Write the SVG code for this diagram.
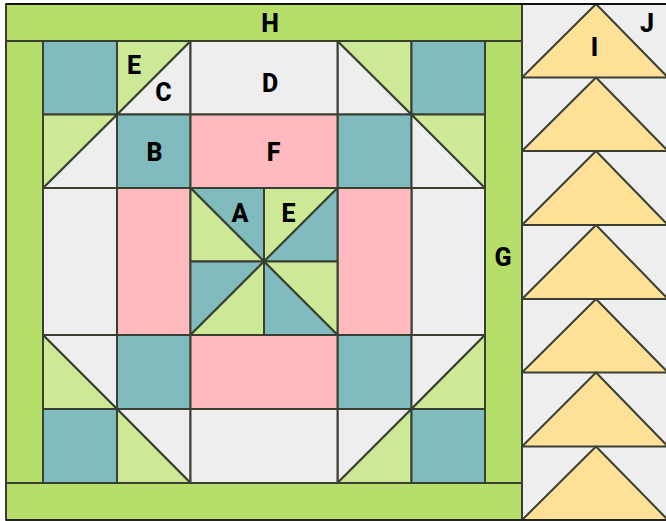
<svg xmlns="http://www.w3.org/2000/svg" width="666" height="521" viewBox="0 0 666 521">
<style>
.s{stroke:#3a3f33;stroke-width:2;stroke-linejoin:round}
.t{fill:#80bbbe}.l{fill:#cde995}.g{fill:#b5de6b}.p{fill:#ffbac0}.w{fill:#eeeeee}.y{fill:#fee097}
text{font-family:Roboto,"Liberation Sans",sans-serif;font-weight:800;font-size:25px;fill:#000;text-anchor:middle}
</style>
<rect width="666" height="521" fill="#ffffff"/>
<g id="border-H"><rect class="g s" x="6" y="4" width="516" height="37"/><text x="270" y="32">H</text></g>
<g id="border-G-left"><rect class="g s" x="6" y="41" width="37" height="442"/></g>
<g id="border-G-right"><rect class="g s" x="485" y="41" width="37" height="442"/><text x="503" y="266">G</text></g>
<g id="border-bottom"><rect class="g s" x="6" y="483" width="516" height="37"/></g>
<g id="corner-tl">
<rect class="t s" x="43" y="41" width="74" height="73.5"/>
<path class="w s" d="M117 114.500H190.500V41Z"/><path class="l s" d="M117 114.500V41H190.500Z"/>
<path class="w s" d="M43 188H117V114.500Z"/><path class="l s" d="M43 188V114.500H117Z"/>
<rect class="t s" x="117" y="114.500" width="73.500" height="73.500"/>
<text x="134" y="74">E</text><text x="163.500" y="101">C</text><text x="154.500" y="161">B</text>
</g>
<g id="corner-tr">
<path class="w s" d="M337.500 41V114.500H411.500Z"/><path class="l s" d="M337.500 41H411.500V114.500Z"/>
<rect class="t s" x="411.500" y="41" width="73.500" height="73.500"/>
<rect class="t s" x="337.500" y="114.500" width="74" height="73.500"/>
<path class="w s" d="M411.500 114.500V188H485Z"/><path class="l s" d="M411.500 114.500H485V188Z"/>
</g>
<g id="corner-bl">
<path class="w s" d="M43 335H117V409Z"/><path class="l s" d="M43 335V409H117Z"/>
<rect class="t s" x="117" y="335" width="73.500" height="74"/>
<rect class="t s" x="43" y="409" width="74" height="74"/>
<path class="w s" d="M117 409H190.500V483Z"/><path class="l s" d="M117 409V483H190.500Z"/>
</g>
<g id="corner-br">
<rect class="t s" x="337.500" y="335" width="74" height="74"/>
<path class="w s" d="M411.500 409V335H485Z"/><path class="l s" d="M411.500 409H485V335Z"/>
<path class="w s" d="M337.500 483V409H411.500Z"/><path class="l s" d="M337.500 483H411.500V409Z"/>
<rect class="t s" x="411.500" y="409" width="73.500" height="74"/>
</g>
<g id="side-D"><rect class="w s" x="190.500" y="41" width="147" height="73.500"/><text x="270" y="92">D</text></g>
<g id="side-bottom"><rect class="w s" x="190.500" y="409" width="147" height="74"/></g>
<g id="side-left"><rect class="w s" x="43" y="188" width="74" height="147"/></g>
<g id="side-right"><rect class="w s" x="411.500" y="188" width="73.500" height="147"/></g>
<g id="pink-F"><rect class="p s" x="190.500" y="114.500" width="147" height="73.500"/><text x="273.500" y="161">F</text></g>
<g id="pink-bottom"><rect class="p s" x="190.500" y="335" width="147" height="74"/></g>
<g id="pink-left"><rect class="p s" x="117" y="188" width="73.500" height="147"/></g>
<g id="pink-right"><rect class="p s" x="337.500" y="188" width="74" height="147"/></g>
<g id="center">
<path class="t s" d="M190.500 188H264V261.500Z"/><path class="l s" d="M190.500 188V261.500H264Z"/>
<path class="l s" d="M264 188H337.500L264 261.500Z"/><path class="t s" d="M337.500 188V261.500H264Z"/>
<path class="t s" d="M190.500 261.500H264L190.500 335Z"/><path class="l s" d="M264 261.500V335H190.500Z"/>
<path class="l s" d="M264 261.500H337.500V335Z"/><path class="t s" d="M264 261.500V335H337.500Z"/>
<text x="240" y="222">A</text><text x="288.500" y="222">E</text>
</g>
<g id="geese">
<rect class="w s" x="522" y="4" width="146" height="516"/>
<path class="y s" d="M522 77.500L596 4L668 77.500Z"/>
<path class="y s" d="M522 151L596 77.500L668 151Z"/>
<path class="y s" d="M522 225L596 151L668 225Z"/>
<path class="y s" d="M522 299L596 225L668 299Z"/>
<path class="y s" d="M522 372.500L596 299L668 372.500Z"/>
<path class="y s" d="M522 446.500L596 372.500L668 446.500Z"/>
<path class="y s" d="M522 520L596 446.500L668 520Z"/>
<text x="594.500" y="56">I</text><text x="647" y="32">J</text>
</g>
<path id="frame-top" d="M6 4H666" stroke="#111" stroke-width="2" fill="none"/>
<path id="frame-bottom" d="M6 520H666" stroke="#222" stroke-width="2" fill="none"/>
</svg>
